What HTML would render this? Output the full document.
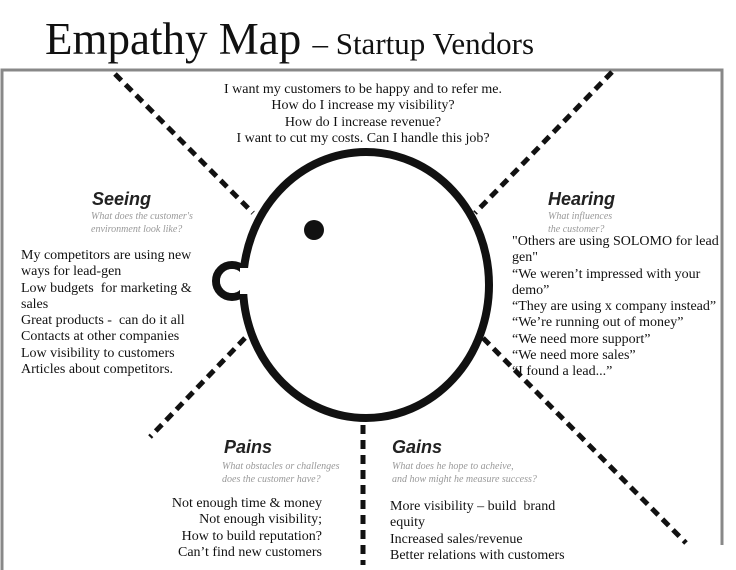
<!DOCTYPE html>
<html><head><meta charset="utf-8"><style>
body{margin:0;width:736px;height:570px;background:#fff;position:relative;overflow:hidden;font-family:"Liberation Serif",serif;color:#111}
.t{position:absolute;font-size:14px;line-height:16.3px;white-space:nowrap}
.h{position:absolute;font-family:"Liberation Sans",sans-serif;font-weight:bold;font-style:italic;font-size:18px;color:#222}
.s{position:absolute;font-style:italic;font-size:10px;line-height:12.5px;color:#999;white-space:nowrap}
</style></head><body>
<div style="position:absolute;left:45px;top:12px;font-size:45px;line-height:54px;white-space:nowrap">Empathy Map <span style="font-size:31px">– Startup Vendors</span></div>
<svg width="736" height="570" style="position:absolute;left:0;top:0">
<path d="M2,570 V70 H722 V545" fill="none" stroke="#888" stroke-width="3"/>
<g stroke="#111" stroke-width="5" stroke-dasharray="9,6" fill="none">
<line x1="115" y1="74" x2="253" y2="213"/>
<line x1="612" y1="72" x2="475" y2="213"/>
<line x1="483" y1="338" x2="686" y2="543"/>
<line x1="245" y1="338" x2="150" y2="437"/>
<line x1="363" y1="425" x2="363" y2="565"/>
</g>
<circle cx="232" cy="281" r="16" fill="#fff" stroke="#111" stroke-width="8"/>
<ellipse cx="366" cy="285" rx="123" ry="133" fill="#fff" stroke="#111" stroke-width="8"/>
<rect x="240" y="268" width="12" height="26" fill="#fff"/>
<circle cx="232" cy="281" r="12" fill="#fff"/>
<circle cx="314" cy="230" r="10" fill="#111"/>
</svg>
<div class="t" style="left:0;width:726px;top:82px;text-align:center">I want my customers to be happy and to refer me.<br>How do I increase my visibility?<br>How do I increase revenue?<br>I want to cut my costs. Can I handle this job?</div>
<div class="h" style="left:92px;top:189px">Seeing</div>
<div class="s" style="left:91px;top:211px">What does the customer's<br>environment look like?</div>
<div class="t" style="left:21px;top:248px">My competitors are using new<br>ways for lead-gen<br>Low budgets &nbsp;for marketing &amp;<br>sales<br>Great products - &nbsp;can do it all<br>Contacts at other companies<br>Low visibility to customers<br>Articles about competitors.</div>
<div class="h" style="left:548px;top:189px">Hearing</div>
<div class="s" style="left:548px;top:211px">What influences<br>the customer?</div>
<div class="t" style="left:512px;top:234px">"Others are using SOLOMO for lead<br>gen"<br>“We weren’t impressed with your<br>demo”<br>“They are using x company instead”<br>“We’re running out of money”<br>“We need more support”<br>“We need more sales”<br>“I found a lead...”</div>
<div class="h" style="left:224px;top:437px">Pains</div>
<div class="s" style="left:222px;top:461px">What obstacles or challenges<br>does the customer have?</div>
<div class="t" style="left:90px;width:232px;text-align:right;top:496px">Not enough time &amp; money<br>Not enough visibility;<br>How to build reputation?<br>Can’t find new customers</div>
<div class="h" style="left:392px;top:437px">Gains</div>
<div class="s" style="left:392px;top:461px">What does he hope to acheive,<br>and how might he measure success?</div>
<div class="t" style="left:390px;top:499px">More visibility – build &nbsp;brand<br>equity<br>Increased sales/revenue<br>Better relations with customers</div>
</body></html>
